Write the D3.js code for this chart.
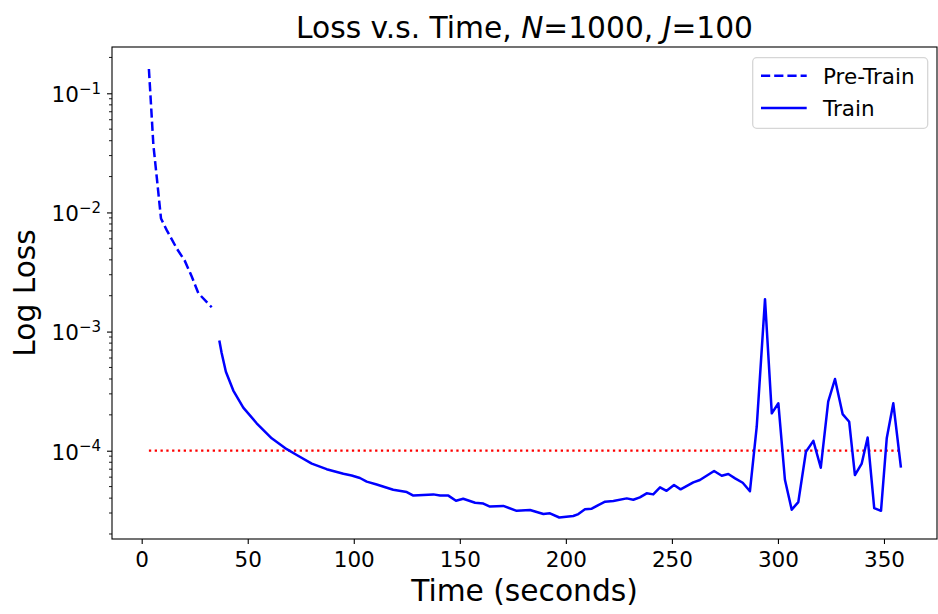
<!DOCTYPE html>
<html>
<head>
<meta charset="utf-8">
<script src="https://cdn.jsdelivr.net/npm/d3@7"></script>
<style>
  body { margin: 0; background: #fff; }
  svg { display: block; font-family: 'DejaVu Sans', sans-serif; }
</style>
</head>
<body>
<div id="chart"></div>
<script>
// Loss vs time data
const preTrainTime = [3.4, 4.4, 5.5, 7.2, 9.1, 11.8, 16.5, 20.4, 23.6, 26.7, 33.0];
const preTrainLoss = [0.16, 0.080, 0.037, 0.019, 0.0089, 0.0071, 0.0050, 0.0039, 0.0029, 0.0021, 0.0016];

const trainTime = [36.6, 37.7, 39.7, 43.2, 47.9, 54.2, 61.3, 68.4, 73.1, 80.2, 87.2, 95.1, 99.0,
    102.9, 106.1, 110.8, 118.6, 125.0, 128.1, 137.5, 140.7, 144.6, 148.2, 151.6, 157.2, 161.1,
    164.2, 170.5, 176.8, 183.1, 189.4, 192.5, 196.9, 203.5, 205.9, 209.0, 212.2, 215.3, 218.5,
    222.4, 228.7, 231.8, 234.9, 238.1, 241.2, 244.4, 247.5, 251.0, 254.1, 260.1, 263.2, 269.9,
    273.5, 276.6, 279.8, 283.4, 286.8, 290.0, 293.9, 297.1, 300.2, 303.3, 306.5, 309.6, 313.2,
    316.7, 320.2, 323.7, 326.9, 330.5, 333.6, 336.3, 339.5, 342.3, 345.4, 348.6, 351.3, 354.4, 358.0];
const trainLoss = [8.4e-4, 6.6e-4, 4.6e-4, 3.2e-4, 2.3e-4, 1.7e-4, 1.27e-4, 1.03e-4, 9.2e-5, 7.8e-5, 7.0e-5, 6.4e-5, 6.2e-5,
    5.9e-5, 5.5e-5, 5.2e-5, 4.7e-5, 4.5e-5, 4.2e-5, 4.3e-5, 4.2e-5, 4.2e-5, 3.8e-5, 3.95e-5, 3.66e-5, 3.6e-5,
    3.4e-5, 3.44e-5, 3.13e-5, 3.18e-5, 2.94e-5, 2.98e-5, 2.75e-5, 2.83e-5, 2.94e-5, 3.22e-5, 3.26e-5, 3.5e-5, 3.73e-5,
    3.78e-5, 3.98e-5, 3.88e-5, 4.06e-5, 4.39e-5, 4.3e-5, 4.93e-5, 4.61e-5, 5.15e-5, 4.74e-5, 5.43e-5, 5.68e-5, 6.76e-5,
    6.17e-5, 6.37e-5, 5.86e-5, 5.38e-5, 4.57e-5, 1.59e-4, 1.87e-3, 2.06e-4, 2.5e-4, 5.7e-5, 3.2e-5, 3.7e-5, 9.8e-5,
    1.21e-4, 7.2e-5, 2.58e-4, 4.0e-4, 2.03e-4, 1.75e-4, 6.25e-5, 7.8e-5, 1.29e-4, 3.3e-5, 3.13e-5, 1.27e-4, 2.5e-4, 7.2e-5];

const threshold = 1e-4;
const xTicks = [0, 50, 100, 150, 200, 250, 300, 350];
const yTicks = [1e-1, 1e-2, 1e-3, 1e-4];
const legendLabels = ['Pre-Train', 'Train'];

const W = 938, H = 614;
const margin = { top: 47, bottom: 75, left: 112, right: 1 };
const width = W - margin.left - margin.right;
const height = H - margin.top - margin.bottom;

const blue = '#0000ff';
const lw = 2.5;
const dashed = '9.2,4';
const tickFont = '21.5px';
const labelFont = '29.7px';

const svg = d3.select('#chart')
    .append('svg')
    .attr('width', W)
    .attr('height', H);

const g = svg.append('g')
    .attr('transform', `translate(${margin.left}, ${margin.top})`);

const xScale = d3.scaleLinear()
    .domain([-14, 375])
    .range([0, width]);

const yScale = d3.scaleLog()
    .domain([Math.pow(10, -4.741), Math.pow(10, -0.6114)])
    .range([height, 0]);

// clip for lines
svg.append('defs').append('clipPath')
    .attr('id', 'plot-clip')
    .append('rect')
    .attr('width', width)
    .attr('height', height);

// x axis
const xAxis = g.append('g')
    .attr('transform', `translate(0, ${height})`)
    .call(d3.axisBottom(xScale).tickValues(xTicks).tickSize(5).tickPadding(5));
xAxis.select('.domain').remove();
xAxis.selectAll('.tick line').attr('stroke', '#000').attr('stroke-width', 1.1);
xAxis.selectAll('.tick text')
    .attr('dy', '0.86em')
    .attr('fill', '#000')
    .style('font-size', tickFont)
    .style('font-family', 'DejaVu Sans');

// y axis minor ticks
const [yLo, yHi] = yScale.domain();
const minorTicks = [];
for (let e = -5; e <= 0; e++) {
    for (let m = 2; m <= 9; m++) {
        const v = m * Math.pow(10, e);
        if (v >= yLo && v <= yHi) minorTicks.push(v);
    }
}
g.append('g')
    .selectAll('line')
    .data(minorTicks)
    .enter()
    .append('line')
    .attr('x1', -3)
    .attr('x2', 0)
    .attr('y1', d => yScale(d))
    .attr('y2', d => yScale(d))
    .attr('stroke', '#000')
    .attr('stroke-width', 0.9);

// y axis major ticks, labels as 10^-n
const yAxis = g.append('g')
    .call(d3.axisLeft(yScale).tickValues(yTicks).tickSize(5).tickPadding(6));
yAxis.select('.domain').remove();
yAxis.selectAll('.tick line').attr('stroke', '#000').attr('stroke-width', 1.1);
yAxis.selectAll('.tick text')
    .attr('dy', '0.39em')
    .attr('fill', '#000')
    .style('font-size', tickFont)
    .style('font-family', 'DejaVu Sans')
    .each(function(d) {
        const t = d3.select(this);
        const exp = Math.round(Math.log10(d));
        t.text('');
        t.append('tspan').text('10');
        t.append('tspan')
            .attr('dy', '-8.4')
            .style('font-size', '15px')
            .text('\u2212' + Math.abs(exp));
    });

// threshold line
g.append('line')
    .attr('x1', xScale(preTrainTime[0]))
    .attr('x2', xScale(trainTime[trainTime.length - 1]))
    .attr('y1', yScale(threshold))
    .attr('y2', yScale(threshold))
    .attr('stroke', '#ff0000')
    .attr('stroke-width', 2.3)
    .attr('stroke-dasharray', '2.3,3.5');

const line = d3.line()
    .x(d => xScale(d[0]))
    .y(d => yScale(d[1]));

const plot = g.append('g').attr('clip-path', 'url(#plot-clip)');

plot.append('path')
    .datum(preTrainTime.map((t, i) => [t, preTrainLoss[i]]))
    .attr('d', line)
    .attr('fill', 'none')
    .attr('stroke', blue)
    .attr('stroke-width', lw)
    .attr('stroke-dasharray', dashed);

plot.append('path')
    .datum(trainTime.map((t, i) => [t, trainLoss[i]]))
    .attr('d', line)
    .attr('fill', 'none')
    .attr('stroke', blue)
    .attr('stroke-width', lw)
    .attr('stroke-linejoin', 'round');

// spines
g.append('rect')
    .attr('width', width)
    .attr('height', height)
    .attr('fill', 'none')
    .attr('stroke', '#000')
    .attr('stroke-width', 1.1);

// title
const title = svg.append('text')
    .attr('x', margin.left + width / 2)
    .attr('y', 38)
    .attr('text-anchor', 'middle')
    .style('font-size', labelFont);
title.append('tspan').text('Loss v.s. Time, ');
title.append('tspan').style('font-style', 'italic').text('N');
title.append('tspan').text('=1000, ');
title.append('tspan').style('font-style', 'italic').text('J');
title.append('tspan').text('=100');

// axis labels
svg.append('text')
    .attr('x', margin.left + width / 2)
    .attr('y', 601)
    .attr('text-anchor', 'middle')
    .style('font-size', labelFont)
    .text('Time (seconds)');

svg.append('text')
    .attr('transform', `translate(35, ${margin.top + height / 2}) rotate(-90)`)
    .attr('text-anchor', 'middle')
    .style('font-size', labelFont)
    .text('Log Loss');

// legend
const legend = svg.append('g');
legend.append('rect')
    .attr('x', 752.7)
    .attr('y', 57.7)
    .attr('width', 175)
    .attr('height', 70.6)
    .attr('rx', 4)
    .attr('fill', '#fff')
    .attr('fill-opacity', 0.8)
    .attr('stroke', '#d6d6d6')
    .attr('stroke-width', 1.3);

legendLabels.forEach((label, i) => {
    const item = legend.append('g')
        .attr('transform', `translate(761, ${75.7 + i * 32.2})`);
    item.append('line')
        .attr('x1', 0)
        .attr('x2', 45.7)
        .attr('stroke', blue)
        .attr('stroke-width', lw)
        .attr('stroke-dasharray', i === 0 ? dashed : null);
    item.append('text')
        .attr('x', 62)
        .attr('y', 8.4)
        .style('font-size', tickFont)
        .text(label);
});
</script>
</body>
</html>
